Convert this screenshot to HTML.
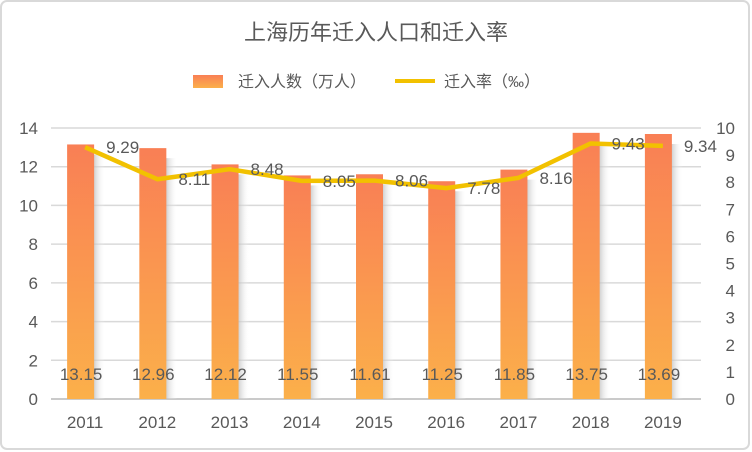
<!DOCTYPE html>
<html><head><meta charset="utf-8"><style>
body{margin:0;background:#fff}
svg{display:block;font-family:"Liberation Sans","Noto Sans CJK SC",sans-serif}
</style></head><body>
<svg width="752" height="452">
<defs>
<linearGradient id="bg" x1="0" y1="0" x2="0" y2="1"><stop offset="0" stop-color="#f97f55"/><stop offset="1" stop-color="#fbb04a"/></linearGradient>
<linearGradient id="sh" x1="0" y1="0" x2="1" y2="0"><stop offset="0" stop-color="#bbb" stop-opacity="0.8"/><stop offset="1" stop-color="#fff" stop-opacity="0"/></linearGradient>
</defs>
<rect x="1" y="1" width="748" height="448" rx="6" fill="#fff" stroke="#d9d9d9" stroke-width="2"/>
<text x="376" y="40" text-anchor="middle" font-size="22" fill="#595959">上海历年迁入人口和迁入率</text>
<g>
<rect x="193" y="75" width="30" height="13" fill="url(#bg)"/>
<text x="238" y="87" font-size="16" fill="#595959">迁入人数（万人）</text>
<line x1="395" y1="81" x2="435" y2="81" stroke="#f2c100" stroke-width="4"/>
<text x="444" y="87" font-size="16" fill="#595959">迁入率（‰）</text>
</g>
<g id="plot"></g>
</svg>
<script>
const years=["2011","2012","2013","2014","2015","2016","2017","2018","2019"];
const people=[13.15,12.96,12.12,11.55,11.61,11.25,11.85,13.75,13.69];
const rate=[9.29,8.11,8.48,8.05,8.06,7.78,8.16,9.43,9.34];
const leftTicks=[0,2,4,6,8,10,12,14];
const rightTicks=[0,1,2,3,4,5,6,7,8,9,10];
const NS="http://www.w3.org/2000/svg";
const g=document.getElementById('plot');
const X0=51,X1=701,Y0=399,Y1=128;
const step=(X1-X0)/years.length;
const cx=i=>X0+step*(i+0.5);
const yL=v=>Y0-(v/14)*(Y0-Y1);
const yR=v=>Y0-(v/10)*(Y0-Y1);
function mk(t,a){const e=document.createElementNS(NS,t);for(const k in a)e.setAttribute(k,a[k]);g.appendChild(e);return e;}
leftTicks.forEach(v=>{
 const l=mk('line',{x1:X0,x2:X1,y1:yL(v),y2:yL(v),stroke:'#d9d9d9','stroke-width':1.5});
 
 
 const t=mk('text',{x:38,y:yL(v)+6,'text-anchor':'end','font-size':17,fill:'#595959'});
 t.textContent=v;
 
 
});
rightTicks.forEach(v=>{
 const t=mk('text',{x:735,y:yR(v)+6,'text-anchor':'end','font-size':17,fill:'#595959'});
 t.textContent=v;
 
 
});
const ax=mk('line',{x1:X0,x2:X1,y1:Y0,y2:Y0,stroke:'#bfbfbf','stroke-width':1.5});


years.forEach((y,i)=>{
 const c=cx(i);
 const s=mk('rect',{x:c+6,y:yL(people[i])+10,width:12,height:Y0-yL(people[i])-10,fill:'url(#sh)'});
 
 
 const b=mk('rect',{x:c-20,y:yL(people[i]),width:27,height:Y0-yL(people[i]),fill:'url(#bg)'});
 
 
 const t=mk('text',{x:c-6,y:380,'text-anchor':'middle','font-size':17,fill:'#595959'});
 t.textContent=people[i].toFixed(2);
 
 
 const xl=mk('text',{x:c-2,y:428,'text-anchor':'middle','font-size':17,fill:'#595959'});
 xl.textContent=y;
 
 
});
const pts=rate.map((v,i)=>(cx(i)-2)+','+yR(v)).join(' ');
const pl=mk('polyline',{points:pts,fill:'none',stroke:'#f2c100','stroke-width':4.5,'stroke-linejoin':'round'});


rate.forEach((v,i)=>{
 const t=mk('text',{x:cx(i)+19,y:yR(v)+6,'font-size':17,fill:'#595959'});
 t.textContent=v.toFixed(2);
 
 
});
</script>
</body></html>
